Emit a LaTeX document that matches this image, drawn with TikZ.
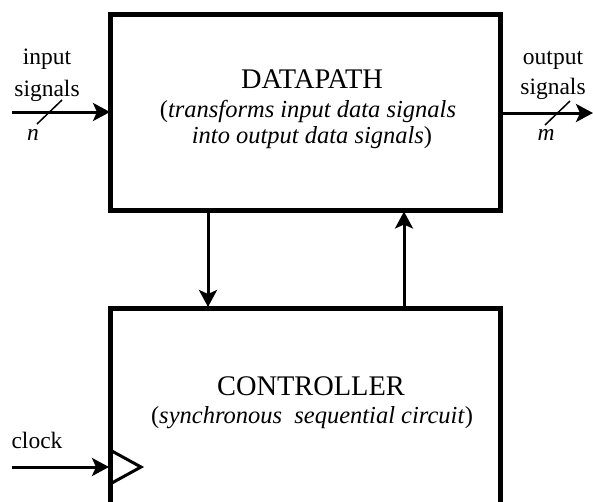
\documentclass[tikz,border=0pt]{standalone}
\usepackage{fontspec}
\setmainfont{Liberation Serif}
\usetikzlibrary{arrows.meta}
\begin{document}
\begin{tikzpicture}[x=1pt,y=-1pt,
  blockbox/.style={draw,line width=5pt,inner sep=0pt,outer sep=0pt},
  arr/.style={line width=3pt,-{Stealth[length=17pt,width=18pt,inset=4pt]}},
  bigtxt/.style={font=\fontsize{28.4}{32}\selectfont,anchor=base,inner sep=0pt},
  midtxt/.style={font=\fontsize{24.5}{28}\selectfont,anchor=base,inner sep=0pt},
  smalltxt/.style={font=\fontsize{23.5}{28}\selectfont,anchor=base,inner sep=0pt},
  slash/.style={line width=1.5pt}]
\useasboundingbox (0,0) rectangle (593,501);
\clip (0,0) rectangle (593,501);
% blocks
\node[blockbox,minimum width=390pt,minimum height=195.5pt] (dp) at (305,112.25) {};
\node[blockbox,minimum width=390pt,minimum height=211pt] (ct) at (305,414) {};
% texts
\node[bigtxt] (dptitle) at (312,88) {DATAPATH};
\node[midtxt] (dpl1) at (308,117) {(\textit{transforms input data signals}};
\node[midtxt] (dpl2) at (312,143) {\textit{into output data signals})};
\node[bigtxt] (cttitle) at (311,395) {CONTROLLER};
\node[midtxt] (ctl1) at (312,423) {(\textit{synchronous\ \ sequential circuit})};
% input
\coordinate (inL) at (12,112);
\draw[arr] (inL) -- (dp.west |- inL);
\node[smalltxt] (intxt1) at (47,64) {input};
\node[smalltxt] (intxt2) at (47,96) {signals};
\coordinate (s1a) at (37,124);
\coordinate (s1b) at (62,100);
\draw[slash] (s1a) -- (s1b);
\node[smalltxt] (ntxt) at (33,140) {\textit{n}};
% output
\coordinate (outR) at (593,113);
\draw[arr] (dp.east |- outR) -- (outR);
\node[smalltxt] (outtxt1) at (553,64) {output};
\node[smalltxt] (outtxt2) at (553,94) {signals};
\coordinate (s2a) at (545,125);
\coordinate (s2b) at (570,101);
\draw[slash] (s2a) -- (s2b);
\node[smalltxt] (mtxt) at (546,140) {\textit{m}};
% vertical arrows
\coordinate (dnx) at (208,0);
\coordinate (upx) at (404,0);
\draw[arr,shorten >=1.5pt] (dnx |- dp.south) -- (dnx |- ct.north);
\draw[arr,shorten >=1.5pt] (upx |- ct.north) -- (upx |- dp.south);
% clock
\coordinate (clkL) at (12,467);
\draw[arr,shorten >=1pt] (clkL) -- (ct.west |- clkL);
\node[smalltxt] (clktxt) at (37,448) {clock};
\coordinate (tA) at (110,450);
\coordinate (tB) at (141,467);
\coordinate (tC) at (110,484);
\draw[line width=3pt,line join=miter] (tA) -- (tB) -- (tC);
\end{tikzpicture}
\end{document}
